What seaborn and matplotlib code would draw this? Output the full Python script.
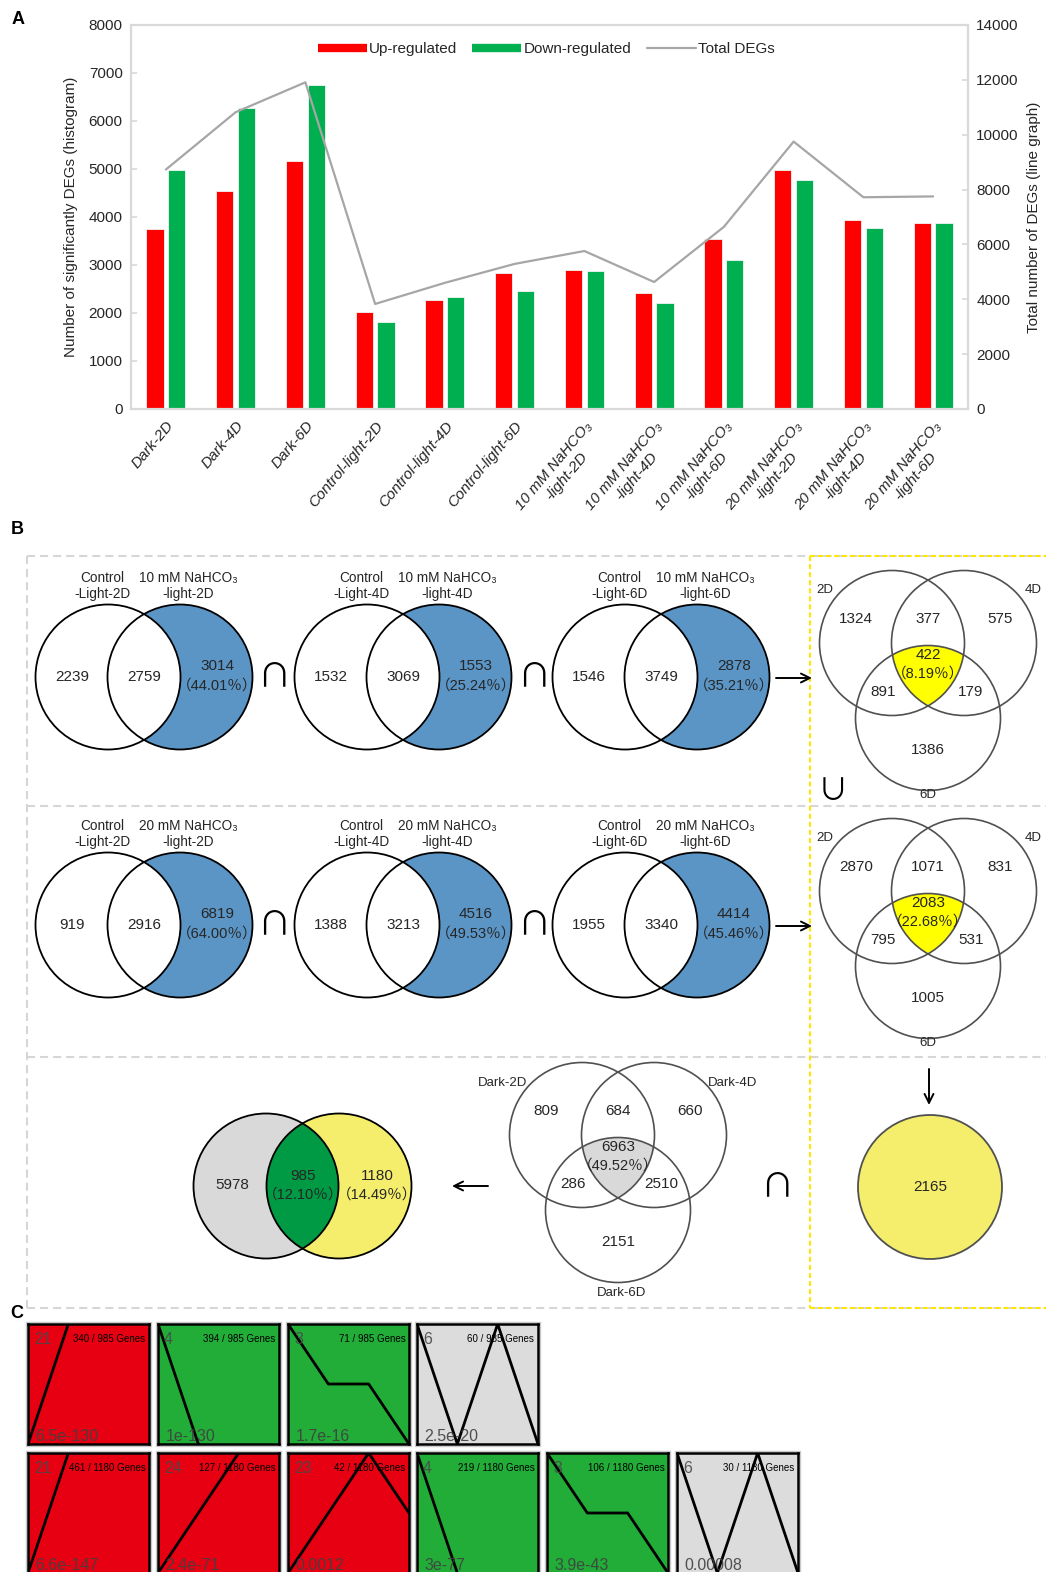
import numpy as np
import pandas as pd
import matplotlib
matplotlib.use("Agg")
import matplotlib.pyplot as plt
import seaborn as sns
from matplotlib.patches import Circle, Polygon, Rectangle
from matplotlib.lines import Line2D

# ---------------- data ----------------
samples = ["Dark-2D", "Dark-4D", "Dark-6D",
           "Control-light-2D", "Control-light-4D", "Control-light-6D",
           "10 mM NaHCO\u2083\n-light-2D", "10 mM NaHCO\u2083\n-light-4D", "10 mM NaHCO\u2083\n-light-6D",
           "20 mM NaHCO\u2083\n-light-2D", "20 mM NaHCO\u2083\n-light-4D", "20 mM NaHCO\u2083\n-light-6D"]
up_regulated = [3750, 4550, 5160, 2020, 2270, 2830, 2890, 2420, 3540, 4980, 3940, 3880]
down_regulated = [4980, 6270, 6750, 1810, 2330, 2460, 2870, 2210, 3100, 4770, 3780, 3870]
total_degs = [8730, 10820, 11910, 3830, 4600, 5290, 5760, 4630, 6640, 9750, 7720, 7750]

# two-set comparisons: (control only, shared, treatment only) and treatment-only share
ctrl_labels = ["Control\n-Light-2D", "Control\n-Light-4D", "Control\n-Light-6D"]
nahco3_10_labels = ["10 mM NaHCO\u2083\n-light-2D", "10 mM NaHCO\u2083\n-light-4D", "10 mM NaHCO\u2083\n-light-6D"]
nahco3_20_labels = ["20 mM NaHCO\u2083\n-light-2D", "20 mM NaHCO\u2083\n-light-4D", "20 mM NaHCO\u2083\n-light-6D"]
pairs_10 = [(2239, 2759, 3014), (1532, 3069, 1553), (1546, 3749, 2878)]
pairs_10_pct = [44.01, 25.24, 35.21]
pairs_20 = [(919, 2916, 6819), (1388, 3213, 4516), (1955, 3340, 4414)]
pairs_20_pct = [64.00, 49.53, 45.46]

# three-set regions: A only, AB, B only, AC, ABC, BC, C only
tri_10 = [1324, 377, 575, 891, 422, 179, 1386]
tri_10_pct = 8.19
tri_20 = [2870, 1071, 831, 795, 2083, 531, 1005]
tri_20_pct = 22.68
dark_sets = ["Dark-2D", "Dark-4D", "Dark-6D"]
dark_tri = [809, 684, 660, 286, 6963, 2510, 2151]
dark_tri_pct = 49.52
day_sets = ["2D", "4D", "6D"]

union_count = 2165
final_pair = (5978, 985, 1180)
final_pair_pct = (12.10, 14.49)

# temporal expression profiles
profile_shapes = {21: [0, 1, 2, 3], 24: [0, 0.5, 1, 1.5], 23: [0, 0.5, 1, 0.5],
                  4: [0, -1, -2, -3], 3: [0, -0.5, -0.5, -1], 6: [0, -1, 0, -1]}
profile_colors = {21: "#e60012", 24: "#e60012", 23: "#e60012",
                  4: "#22ac38", 3: "#22ac38", 6: "#dcdcdc"}
row1_ids = [21, 4, 3, 6]
row1_genes = [340, 394, 71, 60]
row1_total = 985
row1_p = ["6.5e-130", "1e-130", "1.7e-16", "2.5e-20"]
row2_ids = [21, 24, 23, 4, 3, 6]
row2_genes = [461, 127, 42, 219, 106, 30]
row2_total = 1180
row2_p = ["6.6e-147", "2.4e-71", "0.0012", "3e-77", "3.9e-43", "0.00008"]

# ---------------- style ----------------
W, H = 1046, 1572
sns.set_theme(style="white")
plt.rcParams["font.family"] = ["Liberation Sans", "DejaVu Sans"]
plt.rcParams["lines.scale_dashes"] = False
CJK = ["Liberation Sans", "Noto Sans CJK SC", "DejaVu Sans"]
SYM = ["Noto Sans CJK SC", "DejaVu Sans"]
TXT = "#262626"

fig = plt.figure(figsize=(W / 100, H / 100), dpi=100)

# ---------------- panel A ----------------
axA = fig.add_axes([131 / W, 1 - 409 / H, (968 - 131) / W, (409 - 25) / H])
dfA = pd.DataFrame({
    "sample": samples * 2,
    "type": ["Up-regulated"] * len(samples) + ["Down-regulated"] * len(samples),
    "count": up_regulated + down_regulated,
})
sns.barplot(data=dfA, x="sample", y="count", hue="type",
            palette={"Up-regulated": "#ff0000", "Down-regulated": "#00b050"},
            width=0.62, gap=0.2, saturation=1, edgecolor="#f4f4f4", linewidth=0.6,
            legend=False, ax=axA)
axA.set_ylim(0, 8000)
axA.set_yticks(np.arange(0, 8001, 1000))
axA.set_xlabel("")
axA.set_ylabel("Number of significantly DEGs (histogram)", fontsize=11, color=TXT, labelpad=8)

ax2 = axA.twinx()
sns.lineplot(x=np.arange(len(samples)), y=total_degs, color="#a6a6a6", linewidth=1.6, ax=ax2)
ax2.set_ylim(0, 14000)
ax2.set_yticks(np.arange(0, 14001, 2000))
ax2.set_ylabel("Total number of DEGs (line graph)", fontsize=11, color=TXT, labelpad=6)
axA.set_xlim(-0.5, len(samples) - 0.5)

for a in (axA, ax2):
    for s in a.spines.values():
        s.set_color("#d9d9d9")
        s.set_linewidth(1.6)
ax2.spines["left"].set_visible(False)
ax2.spines["top"].set_visible(False)
ax2.spines["bottom"].set_visible(False)
axA.spines["right"].set_visible(False)

axA.tick_params(axis="y", direction="in", length=4, color="#d9d9d9", labelsize=11,
                labelcolor=TXT, pad=6, left=True)
ax2.tick_params(axis="y", direction="in", length=4, color="#d9d9d9", labelsize=11,
                labelcolor=TXT, pad=6, right=True)
axA.tick_params(axis="x", length=0, pad=7)
axA.set_xticks(np.arange(len(samples)))
axA.set_xticklabels(samples, rotation=50, ha="right", va="top", rotation_mode="anchor",
                    fontstyle="italic", fontsize=11, color=TXT, multialignment="center")

handles = [Line2D([], [], color="#ff0000", lw=6, solid_capstyle="butt"),
           Line2D([], [], color="#00b050", lw=6, solid_capstyle="butt"),
           Line2D([], [], color="#a6a6a6", lw=1.6)]
axA.legend(handles, ["Up-regulated", "Down-regulated", "Total DEGs"], ncol=3,
           loc="center", bbox_to_anchor=(0.496, 0.9375), frameon=False,
           handlelength=3.2, handletextpad=0.15, columnspacing=1.0, fontsize=11,
           labelcolor=TXT)

# ---------------- canvas for panels B and C ----------------
cv = fig.add_axes([0, 0, 1, 1])
cv.set_xlim(0, W)
cv.set_ylim(H, 0)
cv.axis("off")
cv.patch.set_visible(False)

for lab, (x, y) in zip("ABC", [(18, 20), (17, 530), (17, 1314)]):
    cv.text(x, y, lab, fontsize=13, fontweight="bold", ha="center", va="center", color="black")

# dashed frames
GRAY_D = "#d6d6d6"
YEL_D = "#ffe600"
for y in (556, 806, 1057, 1308):
    cv.plot([27, W], [y, y], color=GRAY_D, lw=1.5, dashes=(5.8, 3.6), zorder=1)
cv.plot([27, 27], [556, 1308], color=GRAY_D, lw=1.5, dashes=(5.8, 3.6), zorder=1)
cv.plot([810, 810], [556, 1308], color=YEL_D, lw=1.5, dashes=(3.6, 2.2), zorder=1.5)
for y in (556, 1308):
    cv.plot([810, W], [y, y], color=YEL_D, lw=1.5, dashes=(3.6, 2.2), zorder=1.5)

R = 72.5


def circle_pts(c, r, n=720):
    t = np.linspace(0, 2 * np.pi, n, endpoint=False)
    return np.column_stack([c[0] + r * np.cos(t), c[1] + r * np.sin(t)])


def region_poly(centers, r):
    """Convex region shared by all circles."""
    pts = []
    for i, c in enumerate(centers):
        p = circle_pts(c, r)
        keep = np.ones(len(p), bool)
        for j, d in enumerate(centers):
            if j != i:
                keep &= np.hypot(p[:, 0] - d[0], p[:, 1] - d[1]) <= r + 1e-9
        pts.append(p[keep])
    pts = np.vstack(pts)
    m = pts.mean(axis=0)
    order = np.argsort(np.arctan2(pts[:, 1] - m[1], pts[:, 0] - m[0]))
    return pts[order]


def num(x, y, s, size=11):
    cv.text(x, y, s, fontsize=size, ha="center", va="center", color=TXT, family=CJK, zorder=10)


def pct_text(x, y, v, size=11):
    num(x, y, "\uff08%.2f\uff05\uff09" % v, size)


def pair_venn(cxl, cy, lab_l, lab_r, counts, pct, fill):
    cxr = cxl + 72
    cv.add_patch(Circle((cxr, cy), R, fc=fill, ec="none", zorder=2))
    cv.add_patch(Circle((cxl, cy), R, fc="white", ec="none", zorder=3))
    for cx in (cxl, cxr):
        cv.add_patch(Circle((cx, cy), R, fc="none", ec="black", lw=1.3, zorder=4))
    cv.text(cxl - 6, cy - 91, lab_l, fontsize=9.8, ha="center", va="center", color=TXT,
            family=CJK, linespacing=1.1, zorder=10)
    cv.text(cxr + 8, cy - 91, lab_r, fontsize=9.8, ha="center", va="center", color=TXT,
            family=CJK, linespacing=1.1, zorder=10)
    num(cxl - 36, cy, str(counts[0]))
    num(cxl + 36, cy, str(counts[1]))
    num(cxr + 37, cy - 11, str(counts[2]))
    pct_text(cxr + 37, cy + 9, pct, 10.5)


def tri_venn(cx, cy, counts, pct, labels, lab_pos, centre_fill, edge="#505050"):
    cs = [(cx - 36, cy), (cx + 36, cy), (cx, cy + 75)]
    for c in cs:
        cv.add_patch(Circle(c, R, fc="white", ec="none", zorder=2))
    cv.add_patch(Polygon(region_poly(cs, R), closed=True, fc=centre_fill, ec="none", zorder=3))
    for c in cs:
        cv.add_patch(Circle(c, R, fc="none", ec=edge, lw=1.2, zorder=4))
    offs = [(-72, -24), (0, -24), (72, -24), (-45, 49), None, (43, 49), (0, 107)]
    for v, o in zip(counts, offs):
        if o is None:
            num(cx, cy + 12, str(v))
            pct_text(cx, cy + 31, pct, 10.5)
        else:
            num(cx + o[0], cy + o[1], str(v))
    for lab, (dx, dy) in zip(labels, lab_pos):
        cv.text(cx + dx, cy + dy, lab, fontsize=9.5, ha="center", va="center", color=TXT, zorder=10)


pair_x = [108, 367, 625]
for i, cxl in enumerate(pair_x):
    pair_venn(cxl, 677, ctrl_labels[i], nahco3_10_labels[i], pairs_10[i], pairs_10_pct[i], "#5b95c6")
    pair_venn(cxl, 925, ctrl_labels[i], nahco3_20_labels[i], pairs_20[i], pairs_20_pct[i], "#5b95c6")

day_lab_pos = [(-103, -53), (105, -53), (0, 152)]
tri_venn(928, 643, tri_10, tri_10_pct, day_sets, day_lab_pos, "#ffff00")
tri_venn(928, 891, tri_20, tri_20_pct, day_sets, day_lab_pos, "#ffff00")
tri_venn(618, 1135, dark_tri, dark_tri_pct, dark_sets,
         [(-115, -52), (115, -52), (4, 158)], "#d9d9d9")

# union of the two overlaps
cv.add_patch(Circle((930, 1187), 72, fc="#f5ee6c", ec="#505050", lw=1.3, zorder=3))
num(930, 1187, str(union_count))

# final comparison
fl, fr, fy = (266, 1186), (339, 1186), 1186
cv.add_patch(Circle(fl, R, fc="#d9d9d9", ec="none", zorder=2))
cv.add_patch(Circle(fr, R, fc="#f5ee6c", ec="none", zorder=2))
cv.add_patch(Polygon(region_poly([fl, fr], R), closed=True, fc="#009944", ec="none", zorder=3))
for c in (fl, fr):
    cv.add_patch(Circle(c, R, fc="none", ec="black", lw=1.3, zorder=4))
num(232, fy - 1, str(final_pair[0]))
num(303, fy - 10, str(final_pair[1]))
pct_text(303, fy + 9, final_pair_pct[0], 10.5)
num(377, fy - 10, str(final_pair[2]))
pct_text(377, fy + 9, final_pair_pct[1], 10.5)

# set operators and arrows
for (x, y) in [(274, 677), (534, 677), (274, 925), (534, 925), (777, 1187)]:
    cv.text(x, y, "\u2229", fontsize=24, ha="center", va="center", color="black",
            family=SYM, zorder=10)
cv.text(833, 791, "\u222a", fontsize=22, ha="center", va="center", color="black",
        family=SYM, zorder=10)
arrow = dict(arrowstyle="->", lw=1.4, color="black", mutation_scale=16, shrinkA=0, shrinkB=0)
for y in (678, 926):
    cv.annotate("", xy=(812, y), xytext=(776, y), arrowprops=arrow, zorder=10)
cv.annotate("", xy=(929, 1105), xytext=(929, 1069), arrowprops=arrow, zorder=10)
cv.annotate("", xy=(452, 1186), xytext=(488, 1186), arrowprops=arrow, zorder=10)

# ---------------- panel C ----------------
TW, TH = 121, 120
tile_x = [28, 158, 288, 417, 547, 677]
rows = [(1324, row1_ids, row1_genes, row1_total, row1_p),
        (1453, row2_ids, row2_genes, row2_total, row2_p)]
for ty, ids, genes, total, pvals in rows:
    for k, (pid, g, p) in enumerate(zip(ids, genes, pvals)):
        tx = tile_x[k]
        cv.add_patch(Rectangle((tx - 2, ty - 2), TW + 4, TH + 4, fc="none", ec="#c8c8c8",
                               lw=1.0, zorder=1))
        ax = fig.add_axes([tx / W, 1 - (ty + TH) / H, TW / W, TH / H])
        ax.set_facecolor(profile_colors[pid])
        shape = profile_shapes[pid]
        sns.lineplot(x=np.arange(len(shape)), y=shape, color="black", linewidth=2.0, ax=ax)
        ax.set_xlim(0, len(shape) - 1)
        ax.set_ylim((0, 1) if shape[1] > 0 else (-1, 0))
        ax.set_xticks([])
        ax.set_yticks([])
        ax.set_xlabel("")
        ax.set_ylabel("")
        for s in ax.spines.values():
            s.set_color("black")
            s.set_linewidth(1.8)
        ax.text(0.05, 0.93, str(pid), transform=ax.transAxes, fontsize=11.5, color="#4a4a4a",
                ha="left", va="top", alpha=0.9)
        ax.text(0.97, 0.92, "%d / %d Genes" % (g, total), transform=ax.transAxes, fontsize=7,
                family=["Liberation Sans Narrow", "Liberation Sans"], fontstretch="condensed",
                color="black", ha="right", va="top")
        ax.text(0.06, 0.025, p, transform=ax.transAxes, fontsize=11.5, color="#404040",
                ha="left", va="baseline", alpha=0.9)

fig.savefig("out.png", dpi=100)
